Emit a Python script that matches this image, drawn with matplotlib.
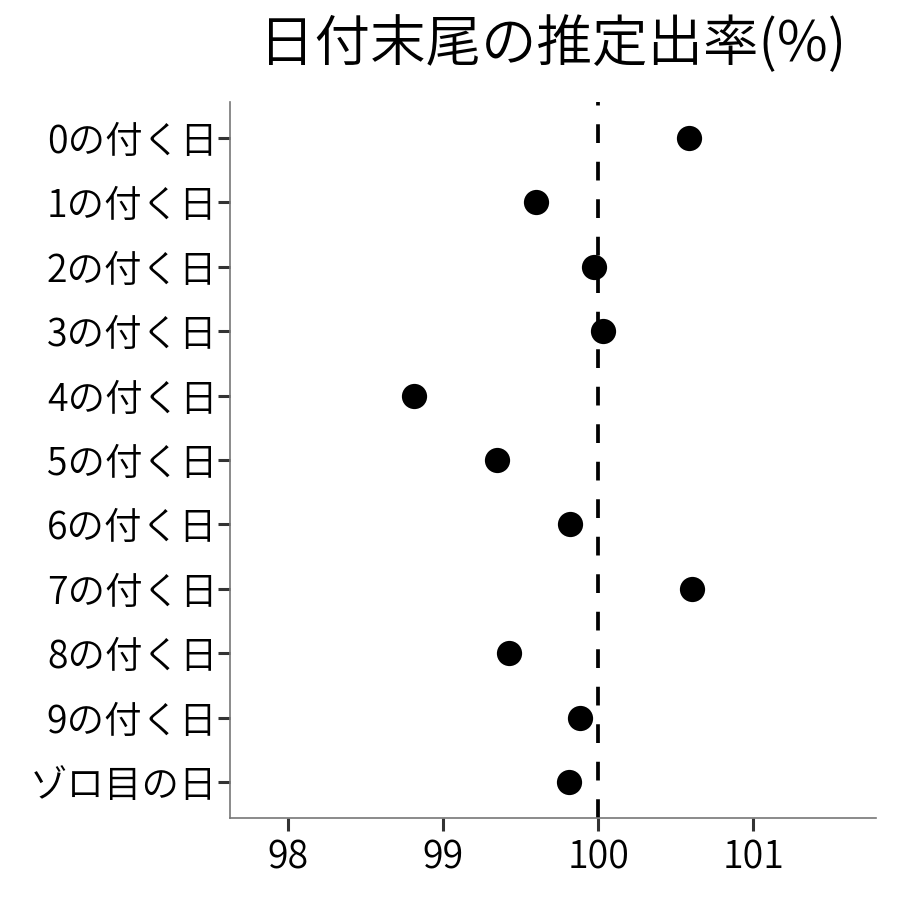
import matplotlib
matplotlib.use('Agg')
import matplotlib.pyplot as plt

plt.rcParams['font.family'] = ['Noto Sans CJK JP', 'DejaVu Sans']
plt.rcParams['font.weight'] = 350

labels = ['0の付く日', '1の付く日', '2の付く日', '3の付く日', '4の付く日',
          '5の付く日', '6の付く日', '7の付く日', '8の付く日', '9の付く日', 'ゾロ目の日']
rates = [100.587, 99.60, 99.974, 100.03, 98.813,
         99.348, 99.819, 100.606, 99.426, 99.884, 99.813]
xticks = [98, 99, 100, 101]

fig = plt.figure(figsize=(9, 9), dpi=100)
ax = fig.add_axes([230 / 900, 82 / 900, 646 / 900, 716 / 900])

ypos = list(range(len(labels)))
ax.scatter(rates, ypos, s=330, color='black', zorder=3, linewidths=0)
ax.axvline(100, color='black', linestyle=(0, (5, 5)), linewidth=2.7, zorder=2)

ax.set_ylim(len(labels) - 1 + 0.56, -0.56)
ax.set_xlim(97.626, 101.79)
ax.set_yticks(ypos)
ax.set_yticklabels(labels)
ax.set_xticks(xticks)
ax.set_xticklabels([str(t) for t in xticks])

for s in ['top', 'right']:
    ax.spines[s].set_visible(False)
for s in ['left', 'bottom']:
    ax.spines[s].set_color('#777777')
    ax.spines[s].set_linewidth(1.2)

ax.tick_params(axis='both', length=9, width=2.2, color='#333333',
               labelsize=27, labelcolor='black')
ax.tick_params(axis='y', pad=0)
ax.tick_params(axis='x', pad=6)

fig.text(553 / 900, 1 - 45 / 900, '日付末尾の推定出率(%)', fontsize=40,
         ha='center', va='center')

fig.savefig('out.png', dpi=100, facecolor='white')
